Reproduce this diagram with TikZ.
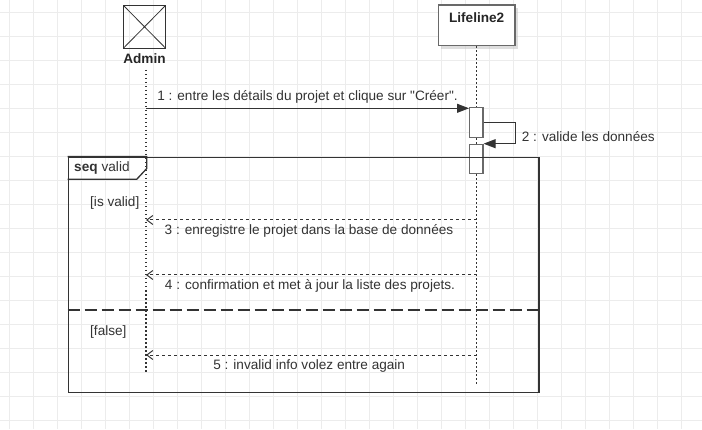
\documentclass[tikz,border=0pt]{standalone}
\usepackage{fontspec}
\setmainfont{Liberation Sans}[Ligatures=TeXOff]
\usepackage{tikz}
\usetikzlibrary{arrows.meta, shapes, positioning, shadows}
\usepackage{xcolor}
\definecolor{gridgray}{RGB}{236,236,236}
\definecolor{linegray}{RGB}{51,51,51}
\definecolor{boxgray}{RGB}{105,105,105}
\tikzset{gridline/.style={gridgray, line width=1pt},
actorbox/.style={rectangle, draw=linegray, line width=1pt, minimum width=42.4pt, minimum height=43pt, inner sep=0pt,
    path picture={\draw[linegray, line width=0.8pt] (path picture bounding box.north west) -- (path picture bounding box.south east)
        (path picture bounding box.north east) -- (path picture bounding box.south west);}},
lifelinebox/.style={rectangle, draw=boxgray, fill=white, line width=1.2pt, minimum width=76.7pt, minimum height=40.7pt, inner sep=0pt,
    drop shadow={shadow xshift=3pt, shadow yshift=-3pt, fill=black!25, opacity=0.5}},
activationbox/.style={rectangle, draw=boxgray, fill=white, line width=1.2pt, minimum width=13.4pt, inner sep=0pt},
lifelineline/.style={linegray, line width=1.3pt, dash pattern=on 1.5pt off 2.5pt},
framebox/.style={rectangle, draw=linegray, line width=1.3pt, inner sep=0pt},
altline/.style={linegray, line width=1.3pt, dash pattern=on 12pt off 5pt},
namelabel/.style={font=\fontsize{13.6pt}{16pt}\selectfont\bfseries, text=black!85, inner sep=0pt, anchor=base},
msglabel/.style={font=\fontsize{13.6pt}{16pt}\selectfont, text=linegray, inner sep=0pt, anchor=base}}

\begin{document}
\begin{tikzpicture}[
        line join=miter,
        syncmsg/.style={linegray, line width=1pt, -{Triangle[length=12pt, width=9pt]}},
        replymsg/.style={linegray, line width=1pt, dash pattern=on 3pt off 3pt, -{Straight Barb[length=6pt, width=9pt]}}
    ]
        \useasboundingbox (0pt, 0pt) rectangle (702pt, 429pt);
        \fill[white] (0pt, 0pt) rectangle (702pt, 429pt);
        % Grid
        \foreach \x in {0,...,28} {
            \draw[gridline] ({9.3pt+\x*24pt}, 0pt) -- ({9.3pt+\x*24pt}, 429pt);
        }
        \foreach \y in {0,...,17} {
            \draw[gridline] (0pt, {8.7pt+\y*24pt}) -- (702pt, {8.7pt+\y*24pt});
        }
        % Participants
        \node[actorbox] (admin) at (144.5pt, 402.2pt) {};
        \node[namelabel] (adminlabel) at (144.5pt, 365pt) {Admin};
        \node[lifelinebox] (lifeline2) at (476.7pt, 403.7pt) {};
        \node[namelabel] (lifeline2label) at (476.7pt, 406.3pt) {Lifeline2};
        % Lifelines
        \coordinate (adminlinetop) at (146pt, 359pt);
        \coordinate (adminlineend) at (146pt, 56pt);
        \coordinate (lifeline2end) at (476.7pt, 44pt);
        \draw[lifelineline] (adminlinetop) -- (adminlineend);
        \draw[lifelineline] (lifeline2.south) -- (lifeline2end);
        % Activations
        \node[activationbox, minimum height=29.6pt] (act1) at (476.3pt, 306.5pt) {};
        \node[activationbox, minimum height=29pt] (act2) at (476.3pt, 270.2pt) {};
        % Combined fragment
        \node[framebox, minimum width=470.7pt, minimum height=235pt] (seqframe) at (303.65pt, 154.2pt) {};
        \draw[linegray, line width=1.3pt] (seqframe.north west) -- ++(79pt, 0pt) -- ++(0pt, -12pt) -- ++(-10pt, -10.7pt) -- ++(-69pt, 0pt);
        \node[msglabel, anchor=base west] (seqlabel) at (74pt, 257pt) {\textbf{seq}\hspace{4pt}valid};
        \coordinate (altsplit) at (0pt, 119pt);
        \draw[altline] (seqframe.west |- altsplit) -- (seqframe.east |- altsplit);
        \node[msglabel, anchor=base west] (guardvalid) at (90pt, 222.3pt) {[is valid]};
        \node[msglabel, anchor=base west] (guardfalse) at (90pt, 93.3pt) {[false]};
        % Messages
        \coordinate (m1start) at (146pt, 320.7pt);
        \draw[syncmsg] (m1start) -- (m1start -| act1.west);
        \node[msglabel] (m1label) at (307.5pt, 328.3pt) {1 : entre les détails du projet et clique sur "Créer".};
        \draw[syncmsg] (act1.east) -- ++(31.6pt, 0pt) |- (act2.north east);
        \node[msglabel, anchor=base west] (m2label) at (521.7pt, 287.3pt) {2 : valide les données};
        \foreach \n/\y in {3/209pt, 4/154pt, 5/74pt} {
            \coordinate (m\n from) at (476.7pt, \y);
            \coordinate (m\n to) at (146pt, \y);
            \draw[replymsg] (m\n from) -- (m\n to);
        }
        \node[msglabel] (m3label) at (309pt, 194.7pt) {3 : enregistre le projet dans la base de données};
        \node[msglabel] (m4label) at (310pt, 139.7pt) {4 : confirmation et met à jour la liste des projets.};
        \node[msglabel] (m5label) at (309.2pt, 59.7pt) {5 : invalid info volez entre again};
    \end{tikzpicture}
\end{document}
